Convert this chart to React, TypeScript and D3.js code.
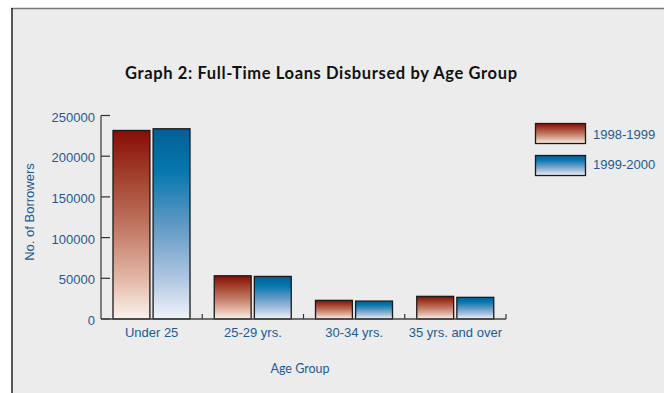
import React from "react";
import * as d3 from "d3";

const categories = ["Under 25", "25-29 yrs.", "30-34 yrs.", "35 yrs. and over"];
const seriesNames = ["1998-1999", "1999-2000"];
const values1998 = [231600, 53100, 22900, 27800];
const values1999 = [233700, 52300, 22000, 26600];
const yTicks = [0, 50000, 100000, 150000, 200000, 250000];

const W = 664;
const H = 393;

export default function App() {
  const x0 = d3.scaleBand<string>().domain(categories).range([101, 506]).paddingInner(0).paddingOuter(0);
  const x1 = d3.scaleBand<string>().domain(seriesNames).range([12, 89]).paddingInner(0.08);
  const y = d3.scaleLinear().domain([0, 250000]).range([319, 115.5]);
  const series = [values1998, values1999];
  const grads = ["gradRed", "gradBlue"];
  const tickFont = "'Liberation Sans', Arial, sans-serif";
  const humanist = "Lato, 'Open Sans', sans-serif";
  const blueText = "#1d5a94";

  return (
    <svg width={W} height={H} style={{ position: "absolute", left: 0, top: 0 }}>
      <defs>
        <linearGradient id="gradRed" x1="0" y1="0" x2="0" y2="1">
          <stop offset="0" stopColor="#880d05" />
          <stop offset="0.25" stopColor="#a2422e" />
          <stop offset="0.5" stopColor="#bf7560" />
          <stop offset="0.78" stopColor="#e2b6a4" />
          <stop offset="1" stopColor="#fbf2ee" />
        </linearGradient>
        <linearGradient id="gradBlue" x1="0" y1="0" x2="0" y2="1">
          <stop offset="0" stopColor="#025f95" />
          <stop offset="0.22" stopColor="#0577ae" />
          <stop offset="0.5" stopColor="#5f98c4" />
          <stop offset="0.78" stopColor="#aec5e0" />
          <stop offset="1" stopColor="#f1f4fb" />
        </linearGradient>
      </defs>
      <rect x={0} y={0} width={W} height={H} fill="#ffffff" />
      <rect x={12} y={9} width={W - 12} height={H - 9} fill="#ececec" />
      <line x1={11} x2={W} y1={8.5} y2={8.5} stroke="#777" strokeWidth={1.5} />
      <line x1={12} x2={12} y1={8} y2={H} stroke="#222" strokeWidth={1.5} />

      <text x={125} y={79} textLength={392} lengthAdjust="spacing" fontFamily={humanist} fontWeight="bold" fontSize={16.5} fill="#111">
        Graph 2: Full-Time Loans Disbursed by Age Group
      </text>

      {/* bars */}
      {categories.map((c, i) => (
        <g key={c}>
          {series.map((s, j) => {
            const bx = (x0(c) as number) + (x1(seriesNames[j]) as number);
            const by = y(s[i]);
            return (
              <rect
                key={j}
                x={bx}
                y={by}
                width={x1.bandwidth()}
                height={y(0) - by}
                fill={`url(#${grads[j]})`}
                stroke="#1a1a1a"
                strokeWidth={1.3}
              />
            );
          })}
        </g>
      ))}

      {/* y axis */}
      <line x1={101} x2={101} y1={y(250000)} y2={y(0)} stroke="#444" strokeWidth={1.3} />
      {yTicks.map((t) => (
        <g key={t}>
          <line x1={101} x2={110} y1={y(t)} y2={y(t)} stroke="#333" strokeWidth={1.2} />
          <text x={95} y={y(t) + 1.5} dy="0.35em" textAnchor="end" fontFamily={tickFont} fontSize={13} fill={blueText}>
            {t}
          </text>
        </g>
      ))}

      {/* x axis */}
      <line x1={101} x2={506} y1={y(0)} y2={y(0)} stroke="#444" strokeWidth={1.3} />
      {[...categories.map((c) => x0(c) as number), 506].map((px, i) =>
        i === 0 ? null : <line key={i} x1={px} x2={px} y1={y(0)} y2={y(0) - 5} stroke="#333" strokeWidth={1.2} />
      )}
      {categories.map((c) => (
        <text key={c} x={(x0(c) as number) + x0.bandwidth() / 2} y={337} textAnchor="middle" fontFamily={tickFont} fontSize={13} fill={blueText}>
          {c}
        </text>
      ))}

      <text x={300} y={373} textAnchor="middle" fontFamily={humanist} fontSize={12.5} fill={blueText}>
        Age Group
      </text>
      <text transform="translate(33.5,212) rotate(-90)" textAnchor="middle" fontFamily={tickFont} fontSize={13} fill={blueText}>
        No. of Borrowers
      </text>

      {/* legend */}
      {seriesNames.map((n, j) => (
        <g key={n}>
          <rect x={535.5} y={123.5 + j * 32} width={50} height={20} fill={`url(#${grads[j]})`} stroke="#1a1a1a" strokeWidth={1.3} />
          <text x={593} y={134.5 + j * 30} dy="0.35em" fontFamily={tickFont} fontSize={13} fill={blueText}>
            {n}
          </text>
        </g>
      ))}
    </svg>
  );
}
